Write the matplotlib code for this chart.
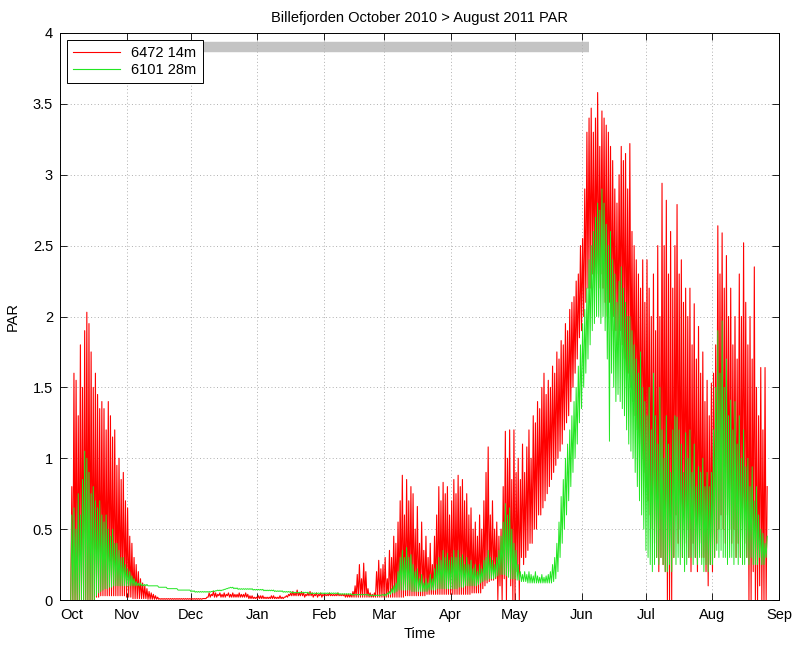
"""
Billefjorden PAR, two loggers, October 2010 - August 2011
daily peak / trough values read off the plot
"""
import numpy as np
import matplotlib
matplotlib.use('Agg')
import matplotlib.pyplot as plt
from matplotlib.ticker import FormatStrFormatter

nan = np.nan

# month ticks (days since 1 Oct 2010)
month_days = [0, 31, 61, 92, 123, 151, 182, 212, 243, 273, 304, 335]
month_labels = ['Oct', 'Nov', 'Dec', 'Jan', 'Feb', 'Mar', 'Apr', 'May', 'Jun', 'Jul', 'Aug', 'Sep']

# 6472 14m - daily maximum
red_peak = [
    nan, nan, nan, nan, nan, 0.8, 1.6, 1.55, 1.3, 1.8, 1.5, 1.9, 2.03, 1.95, 1.75, 1.5, 1.6, 1.45, 1.35, 1.4,
    1.35, 1.2, 1.4, 1.3, 1.15, 1.2, 0.95, 1.0, 0.85, 0.9, 0.7,                                   # Oct
    0.65, 0.45, 0.4, 0.3, 0.25, 0.2, 0.15, 0.12, 0.1, 0.08, 0.06, 0.05, 0.04, 0.03, 0.02,
    0.01, 0.01, 0.01, 0.01, 0.01, 0.01, 0.01, 0.01, 0.01, 0.01, 0.01, 0.01, 0.01, 0.01, 0.01,     # Nov
    0.01, 0.01, 0.01, 0.01, 0.01, 0.01, 0.01, 0.02, 0.05, 0.04, 0.06, 0.05, 0.04, 0.05, 0.04, 0.05,
    0.04, 0.05, 0.04, 0.05, 0.04, 0.04, 0.05, 0.04, 0.04, 0.05, 0.04, 0.03, 0.03, 0.02, 0.02,     # Dec
    0.03, 0.03, 0.03, 0.02, 0.02, 0.02, 0.03, 0.03, 0.02, 0.02, 0.03, 0.02, 0.02, 0.03, 0.04, 0.05,
    0.06, 0.05, 0.07, 0.05, 0.06, 0.05, 0.04, 0.05, 0.06, 0.05, 0.04, 0.05, 0.04, 0.05, 0.04,     # Jan
    0.04, 0.04, 0.05, 0.04, 0.04, 0.04, 0.05, 0.04, 0.04, 0.04, 0.04, 0.04, 0.04, 0.06,
    0.1, 0.18, 0.25, 0.15, 0.26, 0.2, 0.08, 0.05, 0.04, 0.05, 0.2, 0.28, 0.22, 0.25,             # Feb
    0.3, 0.15, 0.35, 0.3, 0.45, 0.4, 0.55, 0.7, 0.88, 0.6, 0.85, 0.7, 0.8, 0.75, 0.5, 0.66,
    0.4, 0.55, 0.35, 0.45, 0.3, 0.4, 0.25, 0.45, 0.6, 0.8, 0.7, 0.83, 0.75, 0.8, 0.6,            # Mar
    0.7, 0.85, 0.75, 0.88, 0.8, 0.85, 0.7, 0.75, 0.6, 0.65, 0.5, 0.55, 0.45, 0.6, 0.5,
    0.7, 0.9, 1.08, 0.6, 0.7, 0.5, 0.55, 0.45, 0.5, 0.8, 1.19, 1.0, 1.2, 0.85, 1.2,              # Apr
    0.9, 1.0, 0.85, 1.1, 0.9, 1.08, 1.2, 1.0, 1.3, 1.25, 1.4, 1.35, 1.5, 1.6, 1.45, 1.55,
    1.5, 1.65, 1.6, 1.75, 1.7, 1.83, 1.8, 1.95, 1.9, 2.05, 2.1, 2.14, 2.25, 2.3, 2.5,            # May
    2.55, 2.9, 3.3, 3.4, 3.47, 3.3, 3.4, 3.58, 3.2, 3.45, 3.4, 3.35, 3.3, 3.2, 3.1,
    2.9, 2.8, 3.0, 3.2, 3.1, 3.15, 2.9, 3.22, 2.6, 2.5, 2.4, 2.3, 2.2, 2.4, 2.1,                 # Jun
    2.4, 2.2, 2.0, 2.3, 1.9, 2.5, 2.0, 2.94, 2.5, 2.82, 2.3, 2.6, 2.2, 2.5, 2.79, 2.3,
    2.4, 2.1, 2.2, 2.0, 2.2, 1.8, 2.09, 1.7, 1.93, 1.6, 1.75, 1.4, 1.55, 1.3, 1.53,              # Jul
    1.6, 1.8, 2.64, 2.3, 2.59, 2.2, 2.43, 2.0, 2.2, 1.8, 2.0, 1.7, 2.3, 2.0, 2.52, 2.1,
    1.8, 2.0, 1.7, 2.35, 1.5, 1.3, 1.64, 1.2, 1.64, 0.8, nan, nan, nan, nan, nan,                # Aug
]

# 6472 14m - daily minimum
red_trough = [
    nan, nan, nan, nan, nan, 0, 0, 0, 0, 0, 0, 0, 0, 0, 0, 0, 0,
    0.02, 0.02, 0.03, 0.03, 0.03, 0.03, 0.03, 0.03, 0.03, 0.03, 0.03, 0.03, 0.03, 0.03,          # Oct
    0.02, 0.02, 0.02, 0.01, 0.01, 0.01, 0.01, 0.01, 0.01, 0.01, 0.005, 0.005, 0.005, 0.005, 0.005,
    0.005, 0.005, 0.005, 0.005, 0.005, 0.005, 0.005, 0.005, 0.005, 0.005, 0.005, 0.005, 0.005,
    0.005, 0.005,                                                                                 # Nov
    0.005, 0.005, 0.005, 0.005, 0.005, 0.005, 0.01, 0.01, 0.02, 0.02, 0.03, 0.02, 0.02, 0.03,
    0.02, 0.02, 0.02, 0.03, 0.02, 0.02, 0.02, 0.02, 0.02, 0.02, 0.02, 0.02, 0.02, 0.01, 0.01,
    0.01, 0.01,                                                                                   # Dec
    0.01, 0.01, 0.01, 0.01, 0.01, 0.01, 0.01, 0.01, 0.01, 0.01, 0.01, 0.01, 0.01, 0.02, 0.02,
    0.03, 0.03, 0.03, 0.03, 0.03, 0.03, 0.03, 0.02, 0.03, 0.03, 0.03, 0.02, 0.03, 0.02, 0.03,
    0.02,                                                                                         # Jan
    0.03, 0.03, 0.03, 0.03, 0.03, 0.03, 0.03, 0.03, 0.03, 0.03, 0.02, 0.02, 0.02, 0.02,
    0.02, 0.02, 0.02, 0.02, 0.02, 0.02, 0.02, 0.02, 0.02, 0.02, 0.02, 0.02, 0.02, 0.02,          # Feb
    0.02, 0.02, 0.02, 0.02, 0.02, 0.02, 0.02, 0.02, 0.02, 0.02, 0.03, 0.03, 0.03, 0.03, 0.03,
    0.03, 0.03, 0.03, 0.03, 0.03, 0.04, 0.04, 0.04, 0.04, 0.04, 0.04, 0.04, 0.04, 0.04, 0.04,
    0.04,                                                                                         # Mar
    0.04, 0.04, 0.04, 0.04, 0.04, 0.04, 0.04, 0.04, 0.04, 0.04, 0.05, 0.05, 0.05, 0.05, 0.05,
    0.08, 0.1, 0.12, 0.13, 0.14, 0.14, 0.15, 0.0, 0.1, 0.0, 0.15, 0.0, 0.2, 0.1, 0.0,            # Apr
    0.0, 0.2, 0.0, 0.3, 0.25, 0.3, 0.35, 0.4, 0.4, 0.5, 0.5, 0.6, 0.6, 0.65, 0.7, 0.75,
    0.8, 0.85, 0.9, 0.95, 1.0, 1.05, 1.1, 1.2, 1.25, 1.3, 1.4, 1.5, 1.6, 1.7, 1.85,              # May
    1.9, 2.0, 2.1, 2.2, 2.2, 2.3, 2.2, 2.3, 2.2, 2.3, 2.2, 2.1, 2.0, 2.1, 1.9,
    2.0, 1.9, 1.8, 1.9, 1.8, 1.7, 1.6, 1.6, 1.5, 1.4, 1.3, 1.2, 1.1, 1.0, 0.9,                   # Jun
    0.8, 0.7, 0.6, 0.5, 0.4, 0.3, 0.2, 0.3, 0.25, 0.2, 0.0, 0.0, 0.0, 0.3, 0.6, 0.4,
    0.5, 0.3, 0.4, 0.5, 0.3, 0.2, 0.4, 0.3, 0.2, 0.4, 0.3, 0.3, 0.2, 0.1, 0.25,                  # Jul
    0.2, 0.3, 0.4, 0.5, 0.6, 0.5, 0.4, 0.6, 0.5, 0.4, 0.5, 0.3, 0.4, 0.3, 0.5, 0.4,
    0.3, 0.0, 0.0, 0.2, 0.0, 0.0, 0.1, 0.0, 0.0, 0.0, nan, nan, nan, nan, nan,                   # Aug
]

# 6101 28m - daily maximum
green_peak = [
    nan, nan, nan, nan, nan, 0.6, 0.65, 0.5, 0.75, 0.6, 0.85, 1.05, 1.0, 0.9, 0.75, 0.8,
    0.7, 0.65, 0.7, 0.6, 0.55, 0.6, 0.5, 0.45, 0.5, 0.4, 0.4, 0.35, 0.3, 0.3, 0.25,              # Oct
    0.22, 0.2, 0.17, 0.15, 0.13, 0.12, 0.12, 0.11, 0.11, 0.11, 0.1, 0.1, 0.1, 0.1, 0.1,
    0.09, 0.09, 0.09, 0.09, 0.08, 0.08, 0.08, 0.08, 0.08, 0.07, 0.07, 0.07, 0.07, 0.07, 0.07,     # Nov
    0.065, 0.065, 0.06, 0.06, 0.06, 0.06, 0.06, 0.06, 0.06, 0.06, 0.065, 0.065, 0.07, 0.07, 0.07,
    0.075, 0.08, 0.085, 0.09, 0.09, 0.085, 0.085, 0.08, 0.08, 0.08, 0.08, 0.08, 0.08, 0.08,
    0.075, 0.075,                                                                                 # Dec
    0.075, 0.075, 0.075, 0.07, 0.07, 0.07, 0.07, 0.07, 0.065, 0.065, 0.065, 0.065, 0.06, 0.06,
    0.06, 0.06, 0.055, 0.055, 0.055, 0.055, 0.055, 0.055, 0.055, 0.055, 0.05, 0.05, 0.05, 0.05,
    0.05, 0.05, 0.05,                                                                             # Jan
    0.05, 0.05, 0.05, 0.05, 0.05, 0.05, 0.05, 0.045, 0.045, 0.045, 0.045, 0.045, 0.045, 0.04,
    0.04, 0.04, 0.04, 0.04, 0.04, 0.04, 0.04, 0.035, 0.035, 0.035, 0.035, 0.035, 0.035, 0.04,     # Feb
    0.04, 0.05, 0.06, 0.08, 0.1, 0.12, 0.2, 0.3, 0.35, 0.3, 0.37, 0.3, 0.32, 0.25, 0.2, 0.22,
    0.15, 0.18, 0.12, 0.15, 0.12, 0.18, 0.15, 0.22, 0.25, 0.3, 0.28, 0.35, 0.3, 0.33, 0.28,      # Mar
    0.3, 0.35, 0.3, 0.35, 0.3, 0.32, 0.25, 0.3, 0.25, 0.28, 0.22, 0.25, 0.2, 0.25, 0.22,
    0.28, 0.3, 0.35, 0.3, 0.28, 0.25, 0.3, 0.35, 0.45, 0.55, 0.68, 0.6, 0.65, 0.5, 0.4,          # Apr
    0.35, 0.25, 0.2, 0.18, 0.2, 0.18, 0.2, 0.18, 0.17, 0.2, 0.17, 0.16, 0.18, 0.16, 0.17, 0.18,
    0.2, 0.25, 0.3, 0.4, 0.55, 0.73, 0.85, 1.0, 1.1, 1.2, 1.3, 1.4, 1.5, 1.65, 1.8,              # May
    1.95, 2.05, 2.2, 2.4, 2.5, 2.6, 2.7, 2.8, 2.75, 2.9, 2.8, 2.65, 2.5, 2.6, 2.4,
    2.3, 2.1, 2.25, 2.35, 2.2, 2.1, 2.0, 2.0, 1.9, 1.8, 1.7, 1.6, 1.75, 1.5, 1.4,                # Jun
    1.3, 1.5, 1.2, 1.6, 1.3, 1.1, 1.5, 1.2, 1.0, 1.3, 1.1, 0.9, 1.2, 1.3, 1.29, 1.2,
    1.1, 0.9, 1.18, 1.0, 1.2, 0.9, 1.1, 0.8, 0.94, 0.9, 1.0, 0.8, 0.9, 0.8, 0.9,                 # Jul
    1.2, 1.5, 1.9, 1.6, 1.97, 1.5, 1.7, 1.3, 1.41, 1.2, 1.4, 1.1, 1.3, 1.0, 1.2, 0.94,
    1.0, 0.8, 0.94, 0.7, 0.8, 0.6, 0.5, 0.47, 0.4, 0.45, nan, nan, nan, nan, nan,                # Aug
]

# 6101 28m - daily minimum
green_trough = [
    nan, nan, nan, nan, nan, 0, 0, 0, 0, 0, 0, 0, 0, 0, 0, 0, 0,
    0.03, 0.05, 0.06, 0.07, 0.08, 0.08, 0.09, 0.09, 0.1, 0.1, 0.1, 0.1, 0.1, 0.1,                # Oct
    0.1, 0.1, 0.1, 0.1, 0.1, 0.1, 0.1, 0.1, 0.1, 0.1, 0.1, 0.1, 0.1, 0.1, 0.1,
    0.09, 0.09, 0.09, 0.09, 0.08, 0.08, 0.08, 0.08, 0.08, 0.07, 0.07, 0.07, 0.07, 0.07, 0.07,     # Nov
    0.06, 0.06, 0.055, 0.055, 0.055, 0.055, 0.055, 0.055, 0.055, 0.055, 0.06, 0.06, 0.065, 0.065,
    0.065, 0.07, 0.075, 0.08, 0.085, 0.085, 0.08, 0.08, 0.075, 0.075, 0.075, 0.075, 0.075, 0.075,
    0.075, 0.07, 0.07,                                                                            # Dec
    0.07, 0.07, 0.07, 0.065, 0.065, 0.065, 0.065, 0.065, 0.06, 0.06, 0.06, 0.06, 0.055, 0.055,
    0.055, 0.055, 0.05, 0.05, 0.05, 0.05, 0.05, 0.05, 0.05, 0.05, 0.045, 0.045, 0.045, 0.045,
    0.045, 0.045, 0.045,                                                                          # Jan
    0.045, 0.045, 0.045, 0.045, 0.045, 0.045, 0.045, 0.04, 0.04, 0.04, 0.04, 0.04, 0.04, 0.035,
    0.035, 0.035, 0.035, 0.035, 0.035, 0.035, 0.035, 0.03, 0.03, 0.03, 0.03, 0.03, 0.03, 0.035,   # Feb
    0.03, 0.03, 0.04, 0.04, 0.05, 0.05, 0.06, 0.07, 0.07, 0.07, 0.07, 0.07, 0.07, 0.06, 0.06,
    0.06, 0.06, 0.06, 0.06, 0.06, 0.06, 0.07, 0.07, 0.07, 0.07, 0.08, 0.08, 0.08, 0.08, 0.08,
    0.08,                                                                                         # Mar
    0.08, 0.08, 0.08, 0.08, 0.09, 0.09, 0.09, 0.1, 0.1, 0.1, 0.1, 0.1, 0.1, 0.11, 0.12,
    0.13, 0.14, 0.14, 0.15, 0.15, 0.15, 0.16, 0.17, 0.18, 0.18, 0.18, 0.17, 0.16, 0.15, 0.15,    # Apr
    0.15, 0.14, 0.14, 0.13, 0.13, 0.13, 0.12, 0.12, 0.12, 0.12, 0.12, 0.12, 0.12, 0.12, 0.12,
    0.12, 0.12, 0.12, 0.13, 0.15, 0.2, 0.3, 0.4, 0.5, 0.6, 0.7, 0.8, 0.9, 1.0, 1.1, 1.25,        # May
    1.35, 1.5, 1.6, 1.7, 1.8, 1.9, 1.95, 2.0, 2.0, 1.95, 2.0, 1.9, 1.7, 1.12, 1.6,
    1.5, 1.4, 1.45, 1.4, 1.35, 1.3, 1.2, 1.1, 1.05, 1.0, 0.9, 0.8, 0.7, 0.6, 0.5,                # Jun
    0.35, 0.3, 0.25, 0.2, 0.25, 0.3, 0.25, 0.3, 0.25, 0.2, 0.2, 0.25, 0.2, 0.3, 0.25, 0.3,
    0.25, 0.3, 0.2, 0.25, 0.3, 0.3, 0.25, 0.3, 0.25, 0.3, 0.25, 0.2, 0.25, 0.2, 0.25,            # Jul
    0.25, 0.3, 0.35, 0.3, 0.35, 0.3, 0.3, 0.25, 0.3, 0.3, 0.25, 0.3, 0.25, 0.3, 0.25, 0.25,
    0.3, 0.25, 0.3, 0.25, 0.25, 0.25, 0.3, 0.25, 0.25, 0.3, nan, nan, nan, nan, nan,             # Aug
]

# grey deployment bar along the top
bar_days = [5, 246.5]
bar_level = [3.9, 3.9]

for name, s in [('red_peak', red_peak), ('red_trough', red_trough),
                ('green_peak', green_peak), ('green_trough', green_trough)]:
    assert len(s) == 335, (name, len(s))

days = np.arange(len(red_peak))


def daily_cycle(peak, trough):
    # night low at the day start, midday high half a day later
    x = np.column_stack([days, days + 0.5]).ravel()
    y = np.column_stack([trough, peak]).ravel()
    return x, y


plt.rcParams['font.family'] = ['Liberation Sans', 'DejaVu Sans']
plt.rcParams['font.size'] = 10

fig = plt.figure(figsize=(7.94, 6.46), dpi=100, facecolor='white')
ax = fig.add_axes([60 / 794, 46 / 646, 719 / 794, 567 / 646])

ax.plot(bar_days, bar_level, color='#c4c4c4', linewidth=7.5, solid_capstyle='butt', zorder=1)

xr, yr = daily_cycle(red_peak, red_trough)
xg, yg = daily_cycle(green_peak, green_trough)
ax.plot(xr, yr, color='#ff0000', linewidth=0.8, label='6472 14m', zorder=2)
ax.plot(xg, yg, color='#22e622', linewidth=0.7, label='6101 28m', zorder=3)

ax.set_xlim(month_days[0], month_days[-1])
ax.set_ylim(0, 4)
ax.set_xticks(month_days)
ax.set_xticklabels(month_labels)
ax.set_yticks(np.arange(0, 4.01, 0.5))
ax.yaxis.set_major_formatter(FormatStrFormatter('%g'))
ax.tick_params(direction='in', length=5, width=0.6, top=True, right=True, labelsize=10.5)
ax.tick_params(axis='x', pad=6)
ax.tick_params(axis='y', pad=5)
ax.grid(True, color='#b0b0b0', linestyle=(0, (1, 2.5)), linewidth=0.7)
for sp in ax.spines.values():
    sp.set_linewidth(0.7)

# keep "Oct" clear of the y-axis "0"
ax.get_xticklabels()[0].set_horizontalalignment('left')

ax.set_title('Billefjorden October 2010 > August 2011 PAR', fontsize=10.5, pad=8)
ax.set_xlabel('Time', fontsize=10.5, labelpad=3)
ax.set_ylabel('PAR', fontsize=10.5, labelpad=9)

leg = ax.legend(loc='upper left', fontsize=10.5, fancybox=False, framealpha=1,
                edgecolor='black', borderaxespad=0.5, handlelength=3.2,
                borderpad=0.4, labelspacing=0.2)
leg.get_frame().set_linewidth(0.7)
for line in leg.get_lines():
    line.set_linewidth(0.8)

plt.savefig('out.png', dpi=100, facecolor='white')
plt.close()
